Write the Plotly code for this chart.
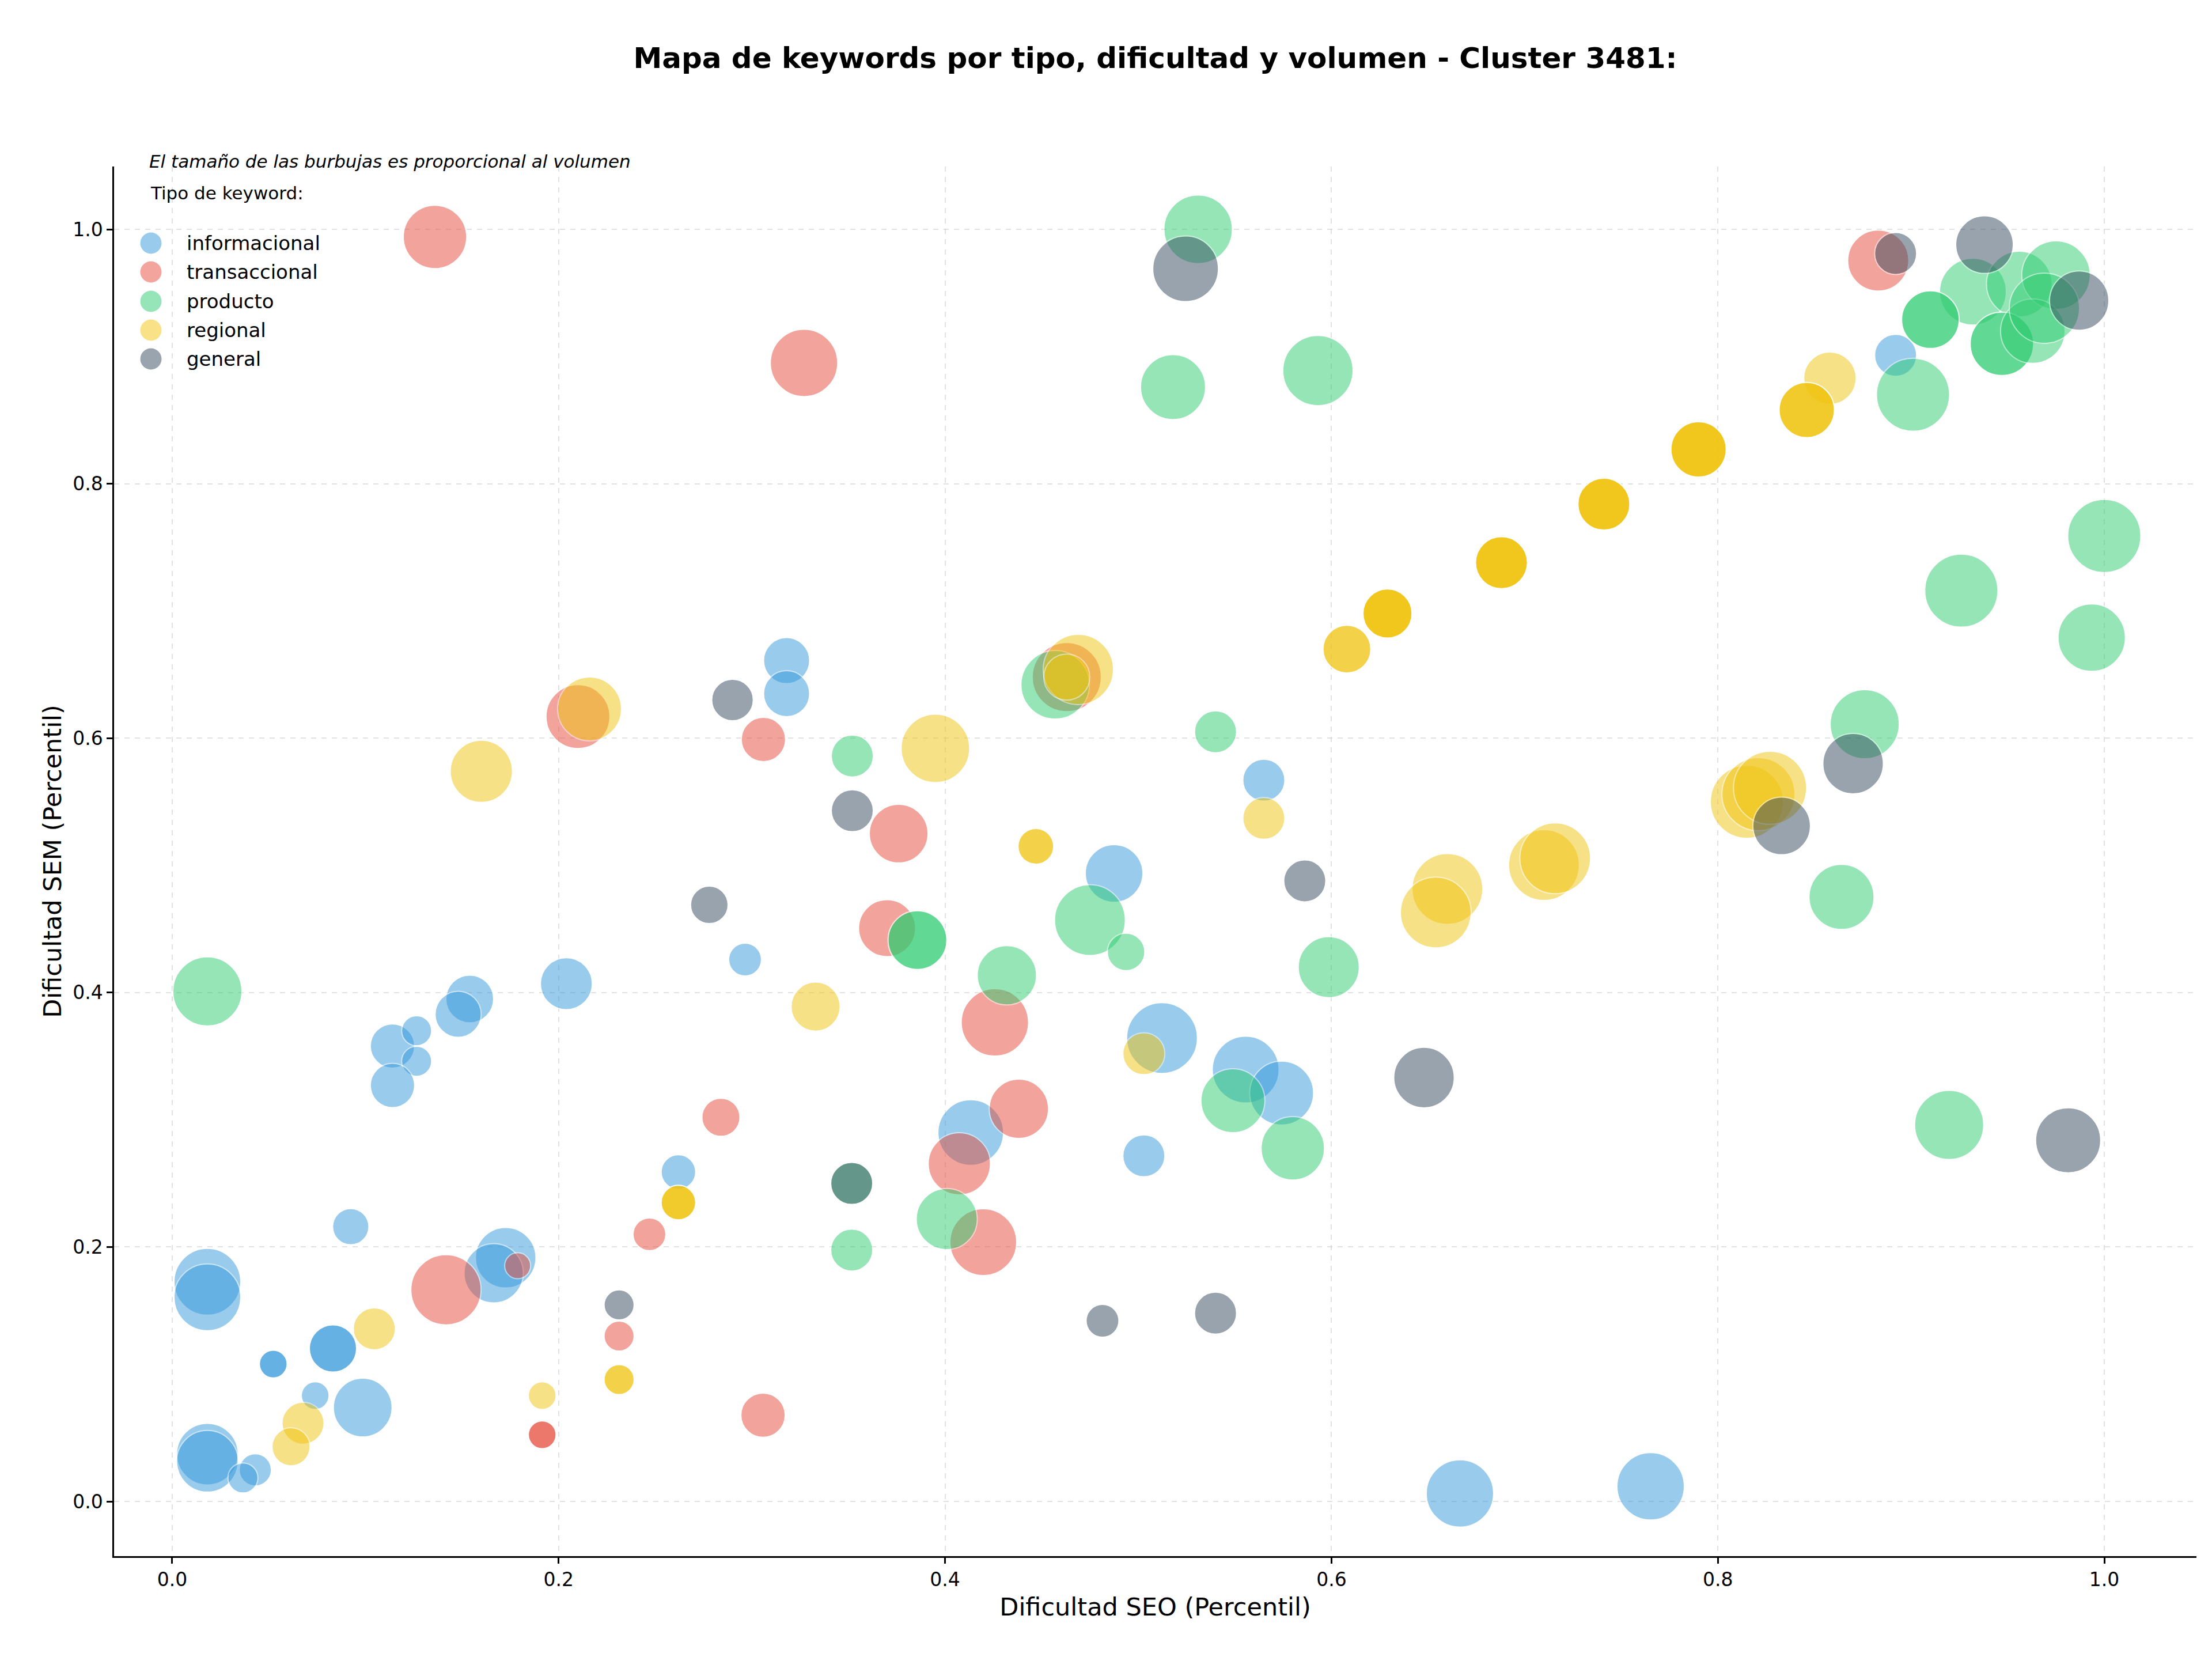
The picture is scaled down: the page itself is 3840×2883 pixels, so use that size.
import math
import plotly.graph_objects as go

# ---------------- data ----------------
categories = ["informacional", "transaccional", "producto", "regional", "general"]
colors = ["#3498db", "#e74c3c", "#2ecc71", "#f1c40f", "#34495e"]

info_x = [0.318, 0.318, 0.892, 0.565, 0.114, 0.1265, 0.1265, 0.114, 0.154, 0.148, 0.204, 0.2965,
          0.262, 0.0924, 0.0182, 0.0182, 0.1726, 0.1664, 0.0832, 0.0832, 0.0523, 0.0523, 0.074, 0.0986,
          0.0182, 0.0182, 0.043, 0.0366, 0.4875, 0.5123, 0.5556, 0.5742, 0.5029, 0.4133, 0.6665, 0.7652]
info_y = [0.661, 0.635, 0.901, 0.567, 0.358, 0.370, 0.346, 0.327, 0.395, 0.383, 0.407, 0.426,
          0.259, 0.216, 0.1727, 0.1605, 0.1916, 0.1794, 0.1203, 0.1203, 0.108, 0.108, 0.0832, 0.0738,
          0.0372, 0.0316, 0.0248, 0.0185, 0.4937, 0.3643, 0.3395, 0.321, 0.2717, 0.290, 0.0063, 0.0119]
info_vol = [1600, 1600, 1330, 1330, 1480, 680, 680, 1480, 1720, 1600, 2030, 810,
            900, 990, 3360, 3360, 2760, 2650, 1680, 1680, 580, 580, 580, 2600,
            2860, 2860, 780, 680, 2500, 3780, 3360, 3080, 1330, 3250, 3420, 3420]

trans_x = [0.136, 0.327, 0.306, 0.210, 0.376, 0.463, 0.883, 0.284, 0.247, 0.1417, 0.1788, 0.2313,
           0.1915, 0.1915, 0.3058, 0.370, 0.4258, 0.4382, 0.4074, 0.4198]
trans_y = [0.994, 0.895, 0.599, 0.617, 0.525, 0.648, 0.9755, 0.302, 0.210, 0.1664, 0.1853, 0.130,
           0.0524, 0.0524, 0.0678, 0.4507, 0.3766, 0.3087, 0.2654, 0.2038]
trans_vol = [3030, 3420, 1480, 3080, 2600, 3600, 2810, 1090, 810, 3720, 510, 680,
             580, 580, 1480, 2450, 3420, 2650, 2920, 3360]

prod_x = [0.531, 0.518, 0.593, 0.457, 0.540, 0.352, 0.932, 0.956, 0.975, 0.910, 0.910, 0.947,
          0.947, 0.963, 0.969, 0.901, 0.926, 1.0, 0.9935, 0.876, 0.0182, 0.3857, 0.3857, 0.475,
          0.4937, 0.5986, 0.432, 0.549, 0.58, 0.4009, 0.3517, 0.3517, 0.864, 0.9197]
prod_y = [1.0, 0.876, 0.889, 0.642, 0.605, 0.586, 0.951, 0.957, 0.964, 0.929, 0.929, 0.910,
          0.910, 0.920, 0.938, 0.870, 0.716, 0.759, 0.679, 0.611, 0.401, 0.4413, 0.4413, 0.457,
          0.432, 0.42, 0.4136, 0.315, 0.2776, 0.222, 0.25, 0.1976, 0.4752, 0.296]
prod_vol = [3540, 3190, 3720, 3540, 1330, 1330, 3360, 3250, 3540, 2500, 2500, 3030,
            3030, 3140, 3720, 4030, 4030, 4030, 3420, 3600, 3600, 2600, 2600, 3780,
            1060, 2810, 2650, 3080, 3030, 2810, 1330, 1330, 3190, 3600]

reg_x = [0.216, 0.160, 0.629, 0.629, 0.629, 0.629, 0.688, 0.688, 0.688, 0.688,
         0.741, 0.741, 0.741, 0.741, 0.790, 0.790, 0.790, 0.790, 0.608, 0.608,
         0.469, 0.463, 0.565, 0.395, 0.447, 0.447, 0.858, 0.846, 0.846, 0.846,
         0.815, 0.821, 0.827, 0.333, 0.262, 0.262, 0.262, 0.2313, 0.2313, 0.1915,
         0.1046, 0.0677, 0.0615, 0.660, 0.654, 0.5029, 0.710, 0.7158]
reg_y = [0.623, 0.574, 0.698, 0.698, 0.698, 0.698, 0.738, 0.738, 0.738, 0.738,
         0.784, 0.784, 0.784, 0.784, 0.827, 0.827, 0.827, 0.827, 0.670, 0.670,
         0.654, 0.648, 0.537, 0.592, 0.515, 0.515, 0.883, 0.858, 0.858, 0.858,
         0.550, 0.556, 0.561, 0.389, 0.235, 0.235, 0.235, 0.0958, 0.0958, 0.0832,
         0.1357, 0.0615, 0.043, 0.4815, 0.463, 0.352, 0.5003, 0.5056]
reg_vol = [3080, 2920, 1810, 1810, 1810, 1810, 2030, 2030, 2030, 2030,
           2030, 2030, 2030, 2030, 2300, 2300, 2300, 2300, 1720, 1720,
           3720, 1600, 1330, 3540, 960, 960, 2070, 2300, 2300, 2300,
           4030, 4030, 4030, 1810, 900, 900, 900, 680, 680, 580,
           1330, 1330, 1090, 3780, 3780, 1330, 3780, 3780]

gen_x = [0.5245, 0.290, 0.892, 0.938, 0.987, 0.870, 0.833, 0.352, 0.278, 0.2313, 0.5862, 0.6479,
         0.3517, 0.4815, 0.540, 0.9813]
gen_y = [0.969, 0.630, 0.981, 0.988, 0.944, 0.580, 0.531, 0.543, 0.469, 0.1545, 0.4878, 0.3332,
         0.25, 0.142, 0.148, 0.2839]
gen_vol = [3250, 1300, 1330, 2500, 2650, 2760, 2500, 1330, 1060, 680, 1330, 2760,
           1330, 810, 1330, 3190]

series = [
    (info_x, info_y, info_vol),
    (trans_x, trans_y, trans_vol),
    (prod_x, prod_y, prod_vol),
    (reg_x, reg_y, reg_vol),
    (gen_x, gen_y, gen_vol),
]

tick_vals = [0.0, 0.2, 0.4, 0.6, 0.8, 1.0]
title_text = "Mapa de keywords por tipo, dificultad y volumen - Cluster 3481:"
note_text = "El tamaño de las burbujas es proporcional al volumen"
legend_title = "Tipo de keyword:"

# ---------------- layout geometry (pixels) ----------------
W, H = 3840, 2883
L, R, T, B = 198, 3813, 289, 2701  # plot area edges
FONT = "DejaVu Sans"


def px_x(px):
    return (px - L) / (R - L)


def px_y(py):
    return (B - py) / (B - T)


fig = go.Figure()
for name, color, (xs, ys, vs) in zip(categories, colors, series):
    fig.add_trace(go.Scatter(
        x=xs, y=ys, mode="markers", name=name,
        marker=dict(
            color=color, opacity=0.5,
            size=[2.0 * math.sqrt(v) for v in vs], sizemode="diameter",
            line=dict(color="white", width=2),
        ),
        showlegend=False,
    ))

# custom legend (circle symbols + labels)
legend_centers = [422, 472, 523, 573, 623]
shapes = []
annotations = []
for name, color, cy in zip(categories, colors, legend_centers):
    shapes.append(dict(
        type="circle", xref="paper", yref="paper",
        xsizemode="pixel", ysizemode="pixel",
        xanchor=px_x(262), yanchor=px_y(cy),
        x0=-18.5, x1=18.5, y0=-18.5, y1=18.5,
        fillcolor=color, opacity=0.5, line=dict(width=0),
    ))
    annotations.append(dict(
        text=name, xref="paper", yref="paper", x=px_x(322), y=px_y(cy),
        xanchor="left", yanchor="middle", showarrow=False,
        font=dict(family=FONT, size=34, color="black"),
    ))

annotations.append(dict(
    text="<i>" + note_text + "</i>", xref="paper", yref="paper",
    x=px_x(257), y=px_y(280), xanchor="left", yanchor="middle", showarrow=False,
    font=dict(family=FONT, size=31, color="black"),
))
annotations.append(dict(
    text=legend_title, xref="paper", yref="paper",
    x=px_x(259), y=px_y(335), xanchor="left", yanchor="middle", showarrow=False,
    font=dict(family=FONT, size=31, color="black"),
))

axis_common = dict(
    showgrid=True, gridcolor="rgba(200,200,200,0.55)", gridwidth=2, griddash="dash",
    zeroline=False, showline=True, linecolor="black", linewidth=2.5,
    ticks="outside", ticklen=10, tickwidth=2.5, tickcolor="black",
    tickvals=tick_vals, tickformat=".1f",
    tickfont=dict(family=FONT, size=33, color="black"),
    mirror=False, automargin=False,
)

fig.update_layout(
    width=W, height=H,
    margin=dict(l=L, r=W - R, t=T, b=H - B, pad=0),
    paper_bgcolor="white", plot_bgcolor="white",
    template="none",
    title=dict(
        text="<b>" + title_text + "</b>",
        x=0.5, xref="paper", xanchor="center",
        y=1 - 100 / H, yref="container", yanchor="middle",
        font=dict(family=FONT, size=50, color="black"),
    ),
    xaxis=dict(
        range=[-0.0301, 1.0477],
        title=dict(text="Dificultad SEO (Percentil)", standoff=14,
                   font=dict(family=FONT, size=43, color="black")),
        **axis_common,
    ),
    yaxis=dict(
        range=[-0.043, 1.0494],
        title=dict(text="Dificultad SEM (Percentil)", standoff=7,
                   font=dict(family=FONT, size=43, color="black")),
        **axis_common,
    ),
    shapes=shapes,
    annotations=annotations,
    showlegend=False,
)

fig.write_html("out.html")
